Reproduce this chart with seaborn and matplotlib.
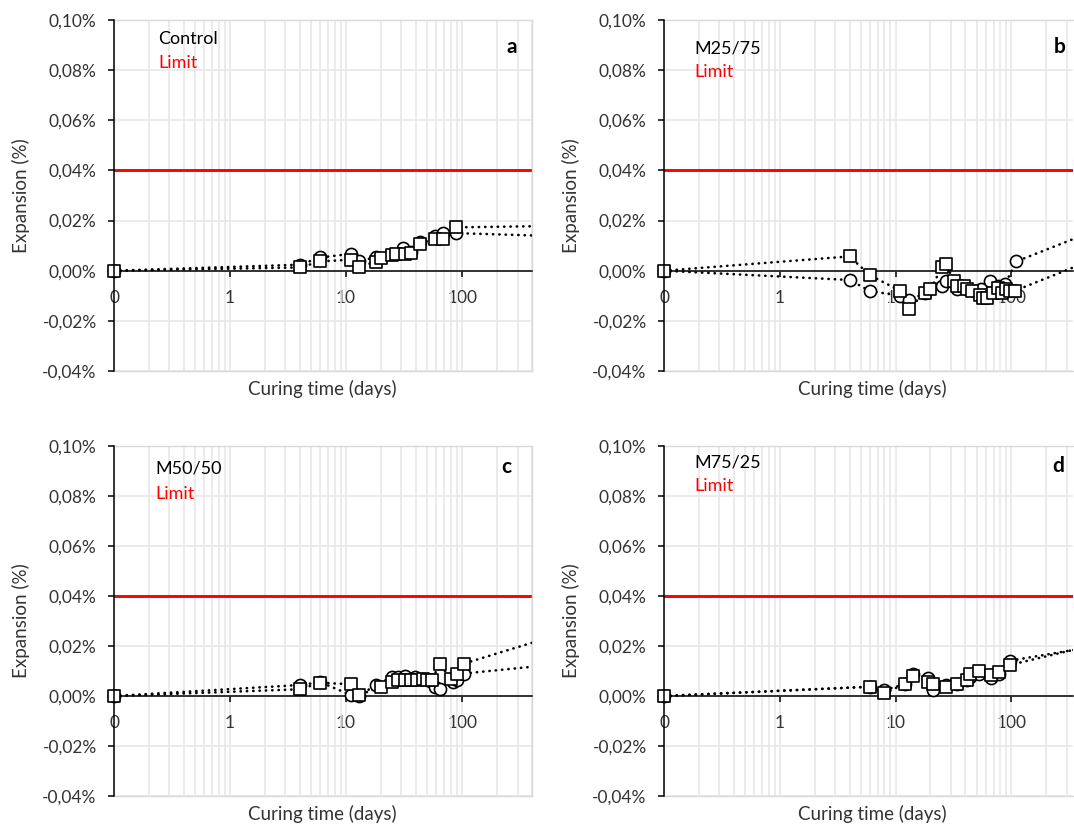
import numpy as np
import pandas as pd
import matplotlib
matplotlib.use("Agg")
import matplotlib.pyplot as plt
import seaborn as sns
from matplotlib.ticker import FixedLocator, FixedFormatter, LogLocator, NullFormatter

# ---------------- data (expansion in %, curing time in days) ----------------
# first point (0.1 d) is shown on the axis as "0"; last points lie beyond the
# visible x-range (only their connecting dotted lines are visible)
A_CIRC_X = [0.1, 4, 6, 11, 13, 18, 25, 31, 36, 43, 58, 68, 88, 730]
A_CIRC_Y = [0, 0.0024, 0.0053, 0.0067, 0.0037, 0.0055, 0.0068, 0.0090, 0.0075, 0.0115, 0.0140, 0.0150, 0.0150, 0.0137]
A_SQ_X = [0.1, 4, 6, 11, 13, 18, 20, 25, 27, 32, 36, 43, 58, 68, 88, 730]
A_SQ_Y = [0, 0.0013, 0.0037, 0.0044, 0.0015, 0.0036, 0.0050, 0.0064, 0.0068, 0.0068, 0.0071, 0.0108, 0.0128, 0.0128, 0.0173, 0.0179]

B_CIRC_X = [0.1, 4, 6, 11, 13, 18, 25, 27, 34, 41, 48, 55, 65, 76, 88, 110, 730]
B_CIRC_Y = [0, -0.0037, -0.0081, -0.0100, -0.0117, -0.0090, -0.0060, -0.0040, -0.0074, -0.0074, -0.0080, -0.0074, -0.0041, -0.0060, -0.0054, 0.0037, 0.0186]
B_SQ_X = [0.1, 4, 6, 11, 13, 18, 20, 25, 27, 32, 34, 39, 41, 46, 53, 57, 62, 69, 76, 83, 90, 97, 107, 730]
B_SQ_Y = [0, 0.0057, -0.0018, -0.0081, -0.0151, -0.0087, -0.0074, 0.0013, 0.0026, -0.0041, -0.0060, -0.0060, -0.0074, -0.0080,
          -0.0097, -0.0107, -0.0107, -0.0087, -0.0067, -0.0087, -0.0074, -0.0080, -0.0080, 0.0074]

C_CIRC_X = [0.1, 4, 6, 11, 13, 18, 25, 28, 32, 39, 46, 53, 58, 64, 83, 90, 104, 730]
C_CIRC_Y = [0, 0.0044, 0.0055, 0.0004, 0.0000, 0.0045, 0.0075, 0.0078, 0.0080, 0.0075, 0.0070, 0.0060, 0.0037, 0.0027, 0.0057, 0.0064, 0.0090, 0.0129]
C_SQ_X = [0.1, 4, 6, 11, 13, 20, 25, 28, 32, 36, 41, 46, 50, 55, 64, 80, 90, 104, 730]
C_SQ_Y = [0, 0.0027, 0.0053, 0.0047, 0.0004, 0.0037, 0.0055, 0.0064, 0.0064, 0.0064, 0.0064, 0.0067, 0.0064, 0.0064, 0.0130, 0.0067, 0.0090, 0.0130, 0.0250]

D_CIRC_X = [0.1, 6, 8, 12, 14, 19, 21, 27, 34, 41, 44, 52, 66, 78, 97, 730]
D_CIRC_Y = [0, 0.0037, 0.0024, 0.0047, 0.0090, 0.0071, 0.0024, 0.0044, 0.0050, 0.0064, 0.0075, 0.0090, 0.0071, 0.0090, 0.0141, 0.0210]
D_SQ_X = [0.1, 6, 8, 12, 14, 19, 21, 27, 34, 41, 44, 52, 66, 78, 97, 730]
D_SQ_Y = [0, 0.0037, 0.0013, 0.0047, 0.0080, 0.0057, 0.0050, 0.0037, 0.0050, 0.0064, 0.0090, 0.0101, 0.0084, 0.0097, 0.0124, 0.0221]

MIXES = ["Control", "M25/75", "M50/50", "M75/25"]
LETTERS = ["a", "b", "c", "d"]
LIMIT = 0.04
Y_TICKS = [-0.04, -0.02, 0.00, 0.02, 0.04, 0.06, 0.08, 0.10]
Y_TICK_LABELS = [f"{v:.2f}%".replace(".", ",") for v in Y_TICKS]
X_TICKS = [0.1, 1, 10, 100]
X_TICK_LABELS = ["0", "1", "10", "100"]

# ---------------- style ----------------
sns.set_style("white")
plt.rcParams["font.family"] = ["Lato", "DejaVu Sans"]

W, H = 1074, 825
fig = plt.figure(figsize=(W / 100, H / 100), dpi=100)
TXT = "#333333"
GRID = "#E6E6E6"
BORDER = "#D9D9D9"


def px_axes(l, t, r, b):
    return fig.add_axes([l / W, 1 - b / H, (r - l) / W, (b - t) / H])


def fig_text(x, y, s, **kw):
    fig.text(x / W, 1 - y / H, s, **kw)


panels = [
    dict(box=(114, 20, 532, 371), xmax=400, cx=A_CIRC_X, cy=A_CIRC_Y, sx=A_SQ_X, sy=A_SQ_Y,
         name=(158, 44), limit=(158, 68), letter=(512, 53), right=True),
    dict(box=(664, 20, 1073, 371), xmax=340, cx=B_CIRC_X, cy=B_CIRC_Y, sx=B_SQ_X, sy=B_SQ_Y,
         name=(694, 53), limit=(694, 77), letter=(1060, 53), right=False),
    dict(box=(114, 446, 532, 796), xmax=400, cx=C_CIRC_X, cy=C_CIRC_Y, sx=C_SQ_X, sy=C_SQ_Y,
         name=(155, 473), limit=(155, 499), letter=(506, 473), right=True),
    dict(box=(664, 446, 1073, 796), xmax=340, cx=D_CIRC_X, cy=D_CIRC_Y, sx=D_SQ_X, sy=D_SQ_Y,
         name=(694, 467), limit=(694, 491), letter=(1058, 472), right=False),
]

DOT = (0, (0.1, 2.3))

for i, p in enumerate(panels):
    l, t, r, b = p["box"]
    ax = px_axes(l, t, r, b)
    ax.set_xscale("log")
    ax.set_xlim(0.1, p["xmax"])
    ax.set_ylim(-0.04, 0.10)
    ax.set_axisbelow(True)

    # ticks / grid
    ax.xaxis.set_major_locator(FixedLocator(X_TICKS))
    ax.xaxis.set_major_formatter(FixedFormatter(X_TICK_LABELS))
    ax.xaxis.set_minor_locator(LogLocator(base=10, subs=np.arange(2, 10)))
    ax.xaxis.set_minor_formatter(NullFormatter())
    ax.set_yticks(Y_TICKS)
    ax.set_yticklabels(Y_TICK_LABELS)
    ax.grid(True, which="both", axis="x", color=GRID, lw=1.1)
    ax.grid(True, which="major", axis="y", color=GRID, lw=1.1)

    ax.tick_params(axis="y", direction="out", length=4.5, width=1.1, color="black",
                   labelcolor=TXT, labelsize=12.5, pad=8, left=True)
    ax.tick_params(axis="x", which="major", direction="out", length=4, width=1.1,
                   color="black", labelcolor=TXT, labelsize=12.5, pad=10, bottom=True)
    ax.tick_params(axis="x", which="minor", length=0)

    # spines
    ax.spines["bottom"].set_position(("data", 0))
    ax.spines["bottom"].set_color("black")
    ax.spines["bottom"].set_linewidth(1.1)
    ax.spines["left"].set_color("black")
    ax.spines["left"].set_linewidth(1.1)
    ax.spines["left"].set_zorder(5)
    ax.spines["top"].set_color(BORDER)
    ax.spines["top"].set_linewidth(1.0)
    ax.spines["right"].set_color(BORDER)
    ax.spines["right"].set_linewidth(1.0)
    ax.spines["right"].set_visible(p["right"])
    ax.axhline(-0.04, color=BORDER, lw=1.0, clip_on=False, zorder=1)

    # limit line
    ax.axhline(LIMIT, color="#FF0000", lw=2.1, zorder=2)

    circ = pd.DataFrame({"x": p["cx"], "y": p["cy"]})
    sq = pd.DataFrame({"x": p["sx"], "y": p["sy"]})

    # dotted connecting lines
    for df in (circ, sq):
        sns.lineplot(data=df, x="x", y="y", ax=ax, estimator=None, sort=False,
                     color="black", lw=1.9, linestyle=DOT, dash_capstyle="round",
                     legend=False, zorder=3)

    # markers (points inside the visible range)
    cvis = circ[circ["x"] <= p["xmax"]]
    svis = sq[sq["x"] <= p["xmax"]]
    sns.scatterplot(data=cvis, x="x", y="y", ax=ax, marker="o", s=76, color="white",
                    edgecolor="black", linewidth=1.2, clip_on=False, zorder=4, legend=False)
    sns.scatterplot(data=svis, x="x", y="y", ax=ax, marker="s", s=72, color="white",
                    edgecolor="black", linewidth=1.2, clip_on=False, zorder=5, legend=False)

    # axis labels
    ax.set_xlabel("Curing time (days)", fontsize=13.5, color=TXT)
    ax.set_ylabel("Expansion (%)", fontsize=13.5, color=TXT)
    width = r - l
    full_w = 418
    ax.xaxis.set_label_coords((full_w / 2 - 1) / width, -0.025)
    ax.yaxis.set_label_coords(-84 / width, 0.5)

    # in-plot texts
    fig_text(*p["name"], MIXES[i], ha="left", va="baseline", fontsize=13, color="black")
    fig_text(*p["limit"], "Limit", ha="left", va="baseline", fontsize=13, color="#FF0000")
    fig_text(*p["letter"], LETTERS[i], ha="center", va="baseline", fontsize=15,
             fontweight="bold", color="black")

fig.savefig("out.png", dpi=100)
